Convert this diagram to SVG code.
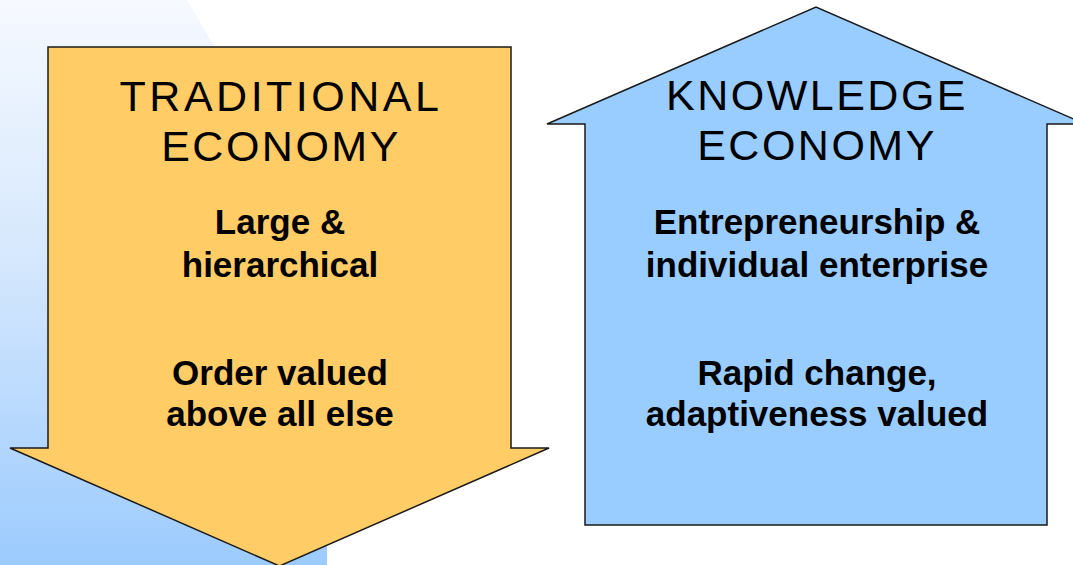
<svg xmlns="http://www.w3.org/2000/svg" width="1073" height="565" viewBox="0 0 1073 565">
<defs>
<linearGradient id="bg" x1="0" y1="0" x2="0" y2="1">
<stop offset="0" stop-color="#f6f9ff"/>
<stop offset="0.45" stop-color="#d6e8fd"/>
<stop offset="1" stop-color="#9ccbfe"/>
</linearGradient>
<style>
.shape{stroke:#1a1a1a;stroke-width:1.5;stroke-linejoin:miter}
.title{font-family:"Liberation Sans",Arial,sans-serif;font-size:43px;letter-spacing:2.5px;fill:#000;text-anchor:middle}
.body{font-family:"Liberation Sans",Arial,sans-serif;font-size:35px;font-weight:bold;fill:#000;text-anchor:middle}
</style>
</defs>
<rect width="1073" height="565" fill="#ffffff"/>
<path d="M0,0 L187,0 L240,90 Q330,250 327,565 L0,565 Z" fill="url(#bg)"/>
<g id="traditional">
<path class="shape" d="M48,47 L511,47 L511,448 L549,448 L279.5,566 L10,448 L48,448 Z" fill="#ffcc66"/>
<text class="title" x="281" y="111" style="letter-spacing:3.5px">TRADITIONAL</text>
<text class="title" x="281" y="161">ECONOMY</text>
<text class="body" x="280" y="234">Large &amp;</text>
<text class="body" x="280" y="277">hierarchical</text>
<text class="body" x="280" y="385">Order valued</text>
<text class="body" x="280" y="426">above all else</text>
</g>
<g id="knowledge">
<path class="shape" d="M585,525 L585,124 L547,124 L816,7 L1085,124 L1047,124 L1047,525 Z" fill="#99ccff"/>
<text class="title" x="817" y="110">KNOWLEDGE</text>
<text class="title" x="817" y="160">ECONOMY</text>
<text class="body" x="817" y="234">Entrepreneurship &amp;</text>
<text class="body" x="817" y="277">individual enterprise</text>
<text class="body" x="817" y="385">Rapid change,</text>
<text class="body" x="817" y="426">adaptiveness valued</text>
</g>
<g id="connectors"></g>
</svg>
